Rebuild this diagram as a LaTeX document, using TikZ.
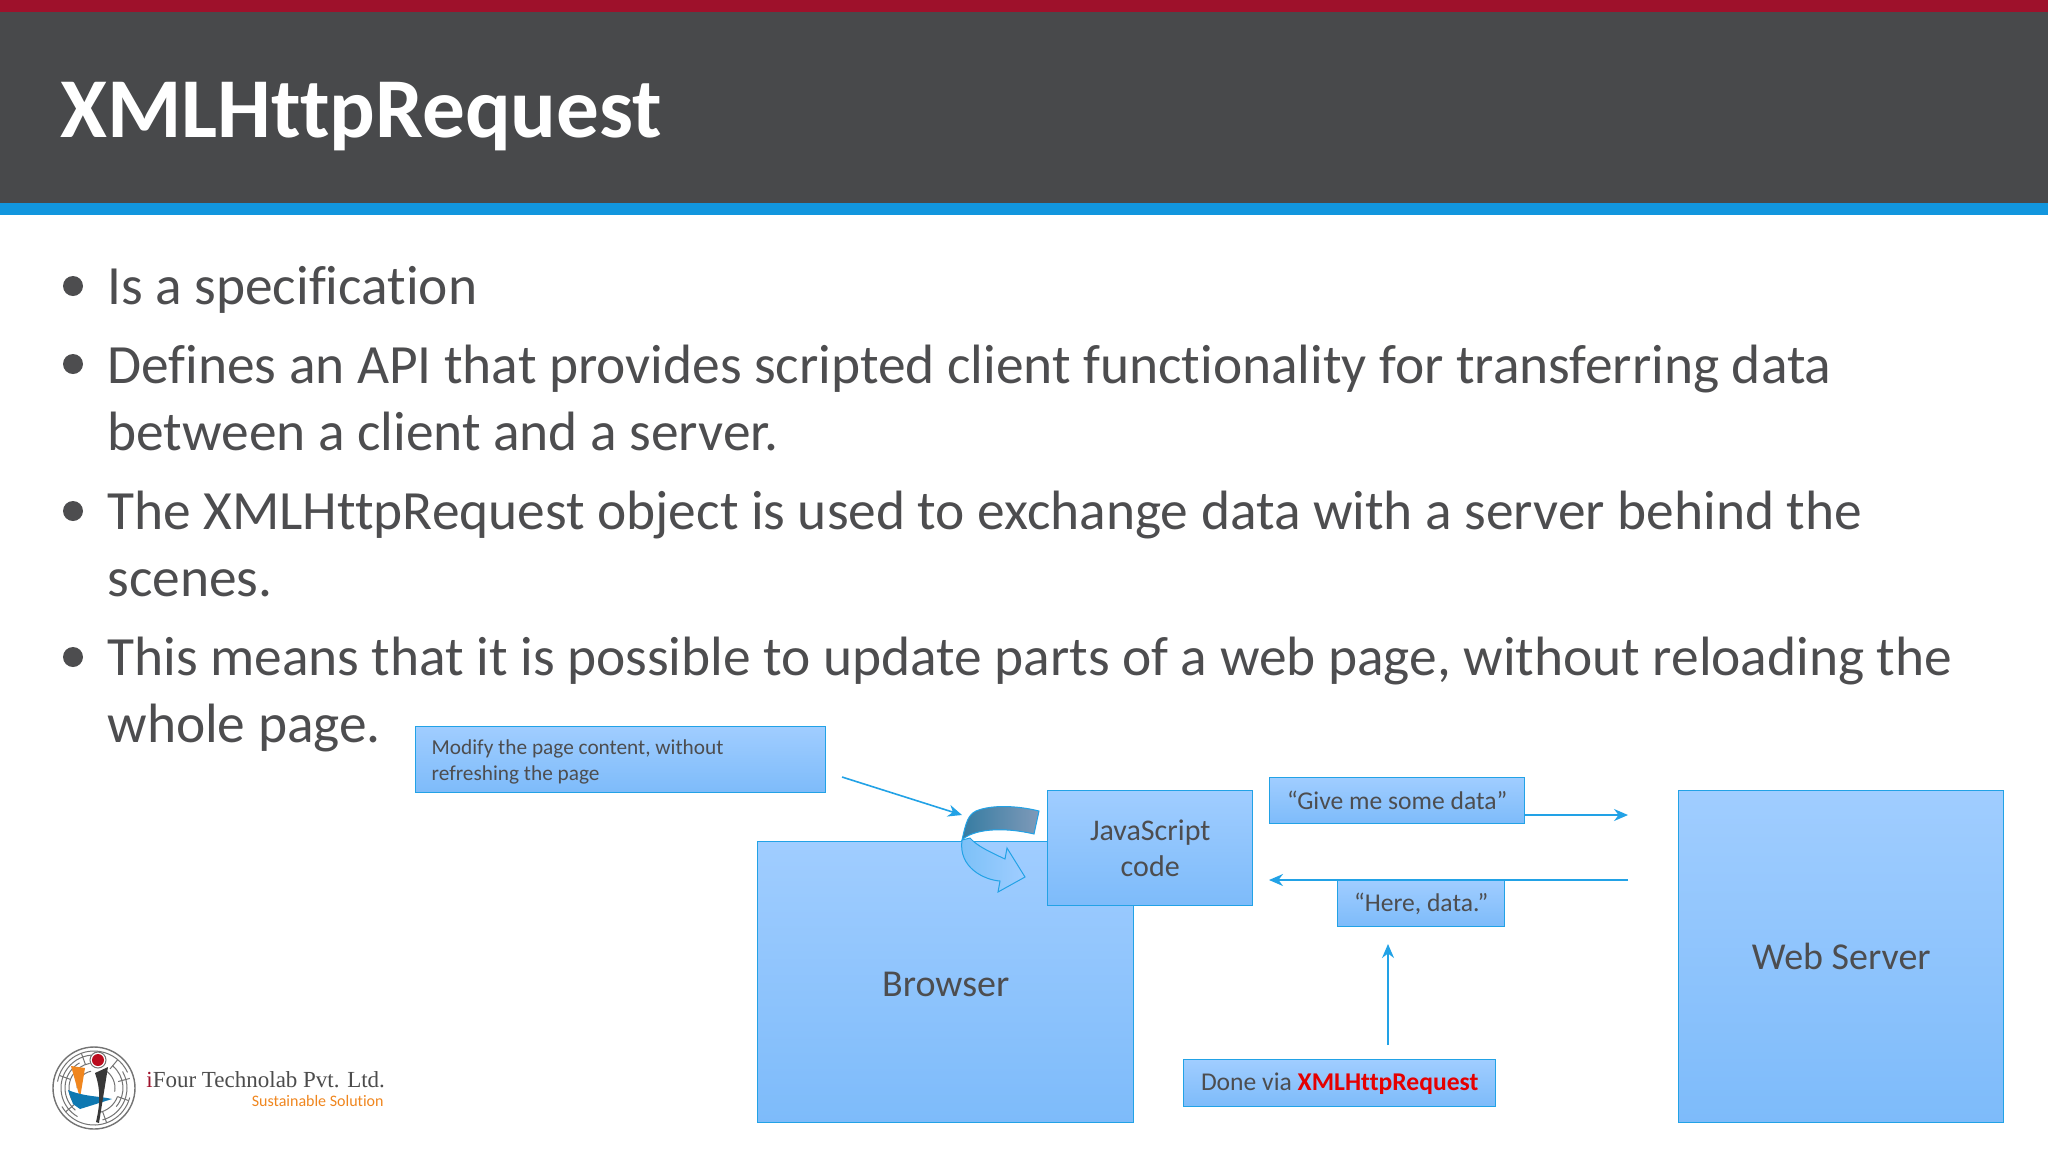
\documentclass[tikz,border=0pt]{standalone}
\usepackage{fontspec}
\setmainfont[Ligatures=NoCommon]{Carlito}
\newfontfamily\logofont{Liberation Serif}
\usetikzlibrary{arrows.meta,calc}
\definecolor{barred}{HTML}{9E112B}
\definecolor{bardark}{HTML}{48494B}
\definecolor{barblue}{HTML}{1296DE}
\definecolor{bodytext}{HTML}{4D4D4F}
\definecolor{boxtop}{HTML}{A0CDFF}
\definecolor{boxbottom}{HTML}{7DBBFA}
\definecolor{boxline}{HTML}{22A2E6}
\definecolor{logoorange}{HTML}{F0861E}
\tikzset{
  x=0.5pt,y=-0.5pt,
  bodyline/.style={anchor=base west,inner sep=0pt,text=bodytext,font=\fontsize{27.7}{32}\selectfont},
  bulletdot/.style={circle,fill=bodytext,inner sep=0pt,minimum size=10pt},
  bluebox/.style={draw=boxline,line width=0.7pt,top color=boxtop,bottom color=boxbottom,anchor=north west,text=bodytext,align=center,inner sep=0pt},
  flowarrow/.style={draw=boxline,line width=0.8pt,-{Stealth[length=7pt,width=6pt]}},
  mazeline/.style={draw=black!55,line width=0.5pt}
}
\begin{document}
\begin{tikzpicture}
    \useasboundingbox (0,0) rectangle (2048,1152);
    \fill[white] (0,0) rectangle (2048,1152);
    % header
    \fill[barred] (0,0) rectangle (2048,12);
    \fill[bardark] (0,12) rectangle (2048,203);
    \fill[barblue] (0,203) rectangle (2048,215);
    \node[anchor=base west,inner sep=0pt,text=white,font=\fontsize{42.6}{50}\selectfont\bfseries] (title) at (60,137) {XMLHttpRequest};
    % bullets
    \node[bulletdot] (dot1) at (73,286) {};
    \node[bulletdot] (dot2) at (73,364) {};
    \node[bulletdot] (dot3) at (73,511) {};
    \node[bulletdot] (dot4) at (73,657) {};
    \node[bodyline] (line1) at (107,304) {Is a specification};
    \node[bodyline] (line2) at (107,383) {Defines an API that provides scripted client functionality for transferring data};
    \node[bodyline] (line3) at (107,450) {between a client and a server.};
    \node[bodyline] (line4) at (107,529) {The XMLHttpRequest object is used to exchange data with a server behind the};
    \node[bodyline] (line5) at (107,596) {scenes.};
    \node[bodyline] (line6) at (107,675) {This means that it is possible to update parts of a web page, without reloading the};
    \node[bodyline] (line7) at (107,742) {whole page.};
    % boxes
    \node[bluebox,minimum width=205pt,minimum height=33pt,align=flush left,font=\fontsize{10.65}{13}\selectfont,text width=189pt,inner xsep=8pt,text depth=13pt] (modify) at (415,726) {Modify the page content, without\\refreshing the page};
    \node[bluebox,minimum width=188pt,minimum height=140.5pt,font=\fontsize{19}{22}\selectfont,text height=14pt,text depth=0pt] (browser) at (757,841) {Browser};
    \node[bluebox,minimum width=102.5pt,minimum height=57.5pt,font=\fontsize{15}{18}\selectfont] (jscode) at (1047,790) {JavaScript\\code};
    \node[bluebox,minimum width=127.5pt,minimum height=23pt,font=\fontsize{12.8}{15}\selectfont] (give) at (1269,777) {“Give me some data”};
    \node[bluebox,minimum width=83.5pt,minimum height=23pt,font=\fontsize{12.8}{15}\selectfont] (here) at (1337,880) {“Here, data.”};
    \node[bluebox,minimum width=156pt,minimum height=23.5pt,font=\fontsize{12.8}{15}\selectfont] (done) at (1183,1059) {Done via \textcolor{red!90!black}{\bfseries XMLHttpRequest}};
    \node[bluebox,minimum width=162.5pt,minimum height=166pt,font=\fontsize{19}{22}\selectfont] (server) at (1678,790) {Web Server};
    % connectors
    \coordinate (modifyend) at (842,777);
    \coordinate (modifytip) at (962,815);
    \coordinate (giveend) at (1628,815);
    \coordinate (herestart) at (1628,880);
    \coordinate (herestop) at (1269,880);
    \coordinate (donestart) at (1388,1045);
    \coordinate (donetip) at (1388,944);
    \draw[flowarrow] (modifyend) -- (modifytip);
    \draw[flowarrow] (give.east |- giveend) -- (giveend);
    \draw[flowarrow] (herestart) -- (herestop);
    \draw[flowarrow] (donestart) -- (donetip);
    % curved arrow
    \draw[draw=boxline,line width=0.5pt,left color=boxtop!70!boxline,right color=boxtop]
      (962,840) .. controls (958,868) and (985,880) .. (1000,881)
      -- (998,892) -- (1025,877) -- (1007,848) -- (1005,859)
      .. controls (990,852) and (977,846) .. (970,838) -- cycle;
    \draw[draw=boxline,line width=0.5pt,left color=boxline!55!bodytext,right color=boxtop!60!bodytext]
      (1039,811) .. controls (1015,805) and (990,805) .. (976,811)
      .. controls (968,815) and (966,822) .. (962,840)
      .. controls (972,830) and (1000,826) .. (1034,834) -- cycle;
    % logo
    \draw[mazeline,line width=0.7pt] (94,1088) circle (41);
    \foreach \mazer/\mazea/\mazeb in {37/15/150,37/190/335,33/-30/75,33/120/265,29/-50/40,29/130/240,25/20/80,25/150/260,21/-60/10,17/180/260}
      \draw[mazeline] ($(94,1088)+(\mazea:\mazer)$) arc[start angle=\mazea,end angle=\mazeb,radius=\mazer];
    \foreach \mazea in {20,70,140,200,250,310,345}
      \draw[mazeline] ($(94,1088)+(\mazea:25)$) -- ($(94,1088)+(\mazea:37)$);
    \fill[logoorange] (71,1066) -- (85,1068) -- (80,1098) -- cycle;
    \fill[barblue!80!black] (68,1090) .. controls (85,1097) and (100,1096) .. (112,1099) -- (80,1109) -- (73,1104) -- cycle;
    \fill[black!78] (95,1073) -- (108,1067) -- (99,1123) -- (96,1122) .. controls (100,1105) and (101,1090) .. cycle;
    \draw[mazeline,fill=white] (98,1060) circle (8);
    \fill[barred!70!red] (98,1060) circle (6);
    \node[anchor=base west,inner sep=0pt,text=black!70,font=\logofont\fontsize{11.5}{14}\selectfont] (logoname) at (146,1087) {\textcolor{barred}{i}Four Technolab Pvt. Ltd.};
    \node[anchor=base east,inner sep=0pt,text=logoorange,font=\fontsize{8}{9}\selectfont] (logotag) at (384,1106) {Sustainable Solution};
\end{tikzpicture}
\end{document}
